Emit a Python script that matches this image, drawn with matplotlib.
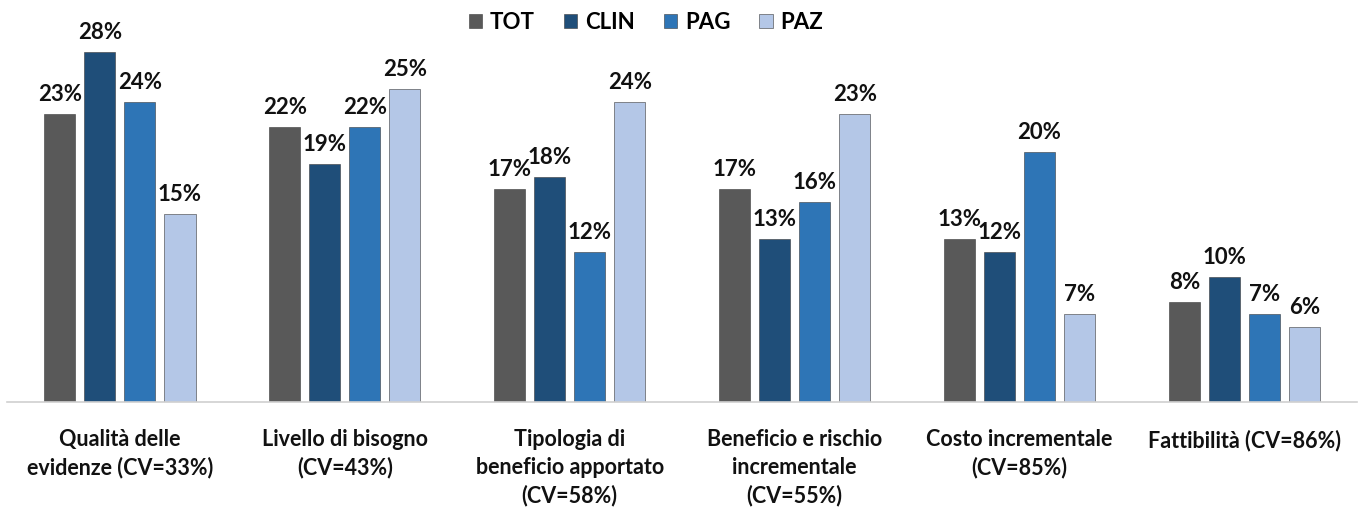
import matplotlib.pyplot as plt
import numpy as np

plt.rcParams['font.family'] = ['Lato', 'DejaVu Sans']

# categories (x axis)
categories = ["Qualità delle\nevidenze (CV=33%)",
              "Livello di bisogno\n(CV=43%)",
              "Tipologia di\nbeneficio apportato\n(CV=58%)",
              "Beneficio e rischio\nincrementale\n(CV=55%)",
              "Costo incrementale\n(CV=85%)",
              "Fattibilità (CV=86%)"]

series = ["TOT", "CLIN", "PAG", "PAZ"]

# percentages per series
tot = [23, 22, 17, 17, 13, 8]
clin = [28, 19, 18, 13, 12, 10]
pag = [24, 22, 12, 16, 20, 7]
paz = [15, 25, 24, 23, 7, 6]

colors = ["#595959", "#1f4e79", "#2e75b6", "#b4c7e7"]

fig = plt.figure(figsize=(13.63, 5.10), dpi=100)
ax = fig.add_axes([0.0055, 0.2098, 0.990, 0.711])

x = np.arange(len(categories))
w = 0.138
pitch = 0.178
for i, (name, vals) in enumerate(zip(series, [tot, clin, pag, paz])):
    pos = x + (i - 1.5) * pitch
    bars = ax.bar(pos, vals, w, color=colors[i], label=name,
                  edgecolor="#3a3a3a", linewidth=0.4)
    for b, v in zip(bars, vals):
        ax.text(b.get_x() + b.get_width() / 2, v + 0.8, f"{v}%",
                ha="center", va="bottom", fontsize=16, fontweight="bold",
                color="#111111", clip_on=False)

ax.set_xlim(-0.5, len(categories) - 0.5)
ax.set_ylim(0, 29)
ax.set_yticks([])
ax.set_xticks(x)
ax.set_xticklabels(categories, fontsize=15.5, fontweight="bold", color="#111111",
                   linespacing=1.38, va="top")
ax.tick_params(axis="x", length=0, pad=19)
for s in ["top", "left", "right"]:
    ax.spines[s].set_visible(False)
ax.spines["bottom"].set_color("#d0d0d0")
ax.spines["bottom"].set_linewidth(1.2)

fig.legend(loc="center", bbox_to_anchor=(0.474, 0.955), ncol=4, frameon=False,
           prop={"size": 16, "weight": "bold"}, handlelength=0.6, handleheight=0.6,
           columnspacing=1.3, handletextpad=0.35)

fig.savefig("out.png", dpi=100)
